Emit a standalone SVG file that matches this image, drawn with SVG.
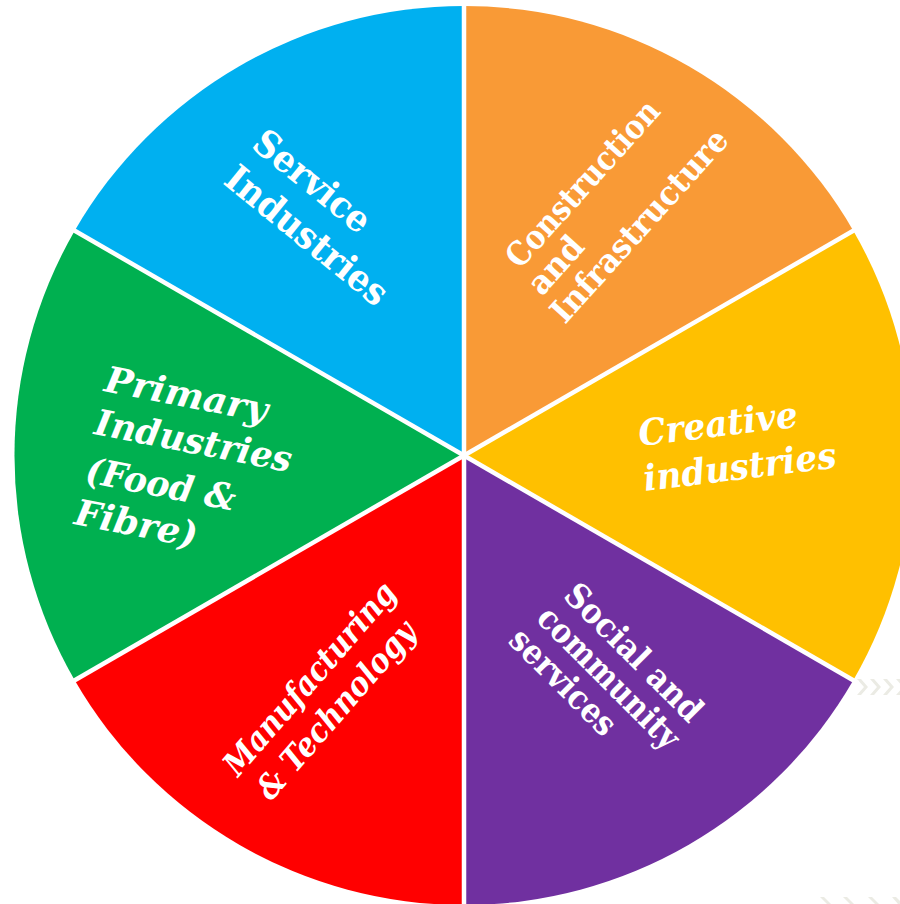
<svg xmlns="http://www.w3.org/2000/svg" width="900" height="904" viewBox="0 0 900 904">
<style>
.lbl{fill:#fff;font-family:"DejaVu Serif","Liberation Serif",serif;font-weight:bold}
.it{font-style:italic}
.gap{stroke:#fff;stroke-width:4.5}
.chev{fill:#ebebe4}
</style>
<rect width="900" height="904" fill="#fff"/>
<g id="chevrons">
<polygon class="chev" points="857,679 861,679 868,687 861,695 857,695 864,687"/>
<polygon class="chev" points="870,679 874,679 881,687 874,695 870,695 877,687"/>
<polygon class="chev" points="883,679 887,679 894,687 887,695 883,695 890,687"/>
<polygon class="chev" points="896,679 900,679 900,695 896,695 903,687"/>
<polygon class="chev" points="820,897 824,897 831,904 827,904"/>
<polygon class="chev" points="843,897 847,897 854,904 850,904"/>
<polygon class="chev" points="868,897 872,897 879,904 875,904"/>
<polygon class="chev" points="892,897 896,897 900,901 900,904 898,904"/>
</g>
<g id="node-service">
<path d="M464,455.5 L74.7,230.75 A449.5,449.5 0 0 1 464,6 Z" fill="#00B0F0"/>
<text class="lbl" font-size="37" transform="translate(250,147) rotate(39)" textLength="140" lengthAdjust="spacingAndGlyphs">Service</text>
<text class="lbl" font-size="37" transform="translate(222,183) rotate(39)" textLength="198" lengthAdjust="spacingAndGlyphs">Industries</text>
</g>
<g id="node-construction">
<path d="M464,455.5 L464,6 A449.5,449.5 0 0 1 853.3,230.75 Z" fill="#F99A36"/>
<text class="lbl" font-size="33" transform="translate(520,270) rotate(-48)" textLength="212" lengthAdjust="spacingAndGlyphs">Construction</text>
<text class="lbl" font-size="33" transform="translate(542,297) rotate(-48)" textLength="66" lengthAdjust="spacingAndGlyphs">and</text>
<text class="lbl" font-size="33" transform="translate(565,325) rotate(-48)" textLength="247" lengthAdjust="spacingAndGlyphs">Infrastructure</text>
</g>
<g id="node-creative">
<path d="M464,455.5 L853.3,230.75 A449.5,449.5 0 0 1 853.3,680.25 Z" fill="#FFC000"/>
<text class="lbl it" font-size="36" transform="translate(640,446) rotate(-7)" textLength="160" lengthAdjust="spacingAndGlyphs">Creative</text>
<text class="lbl it" font-size="36" transform="translate(645,491) rotate(-7)" textLength="194" lengthAdjust="spacingAndGlyphs">industries</text>
</g>
<g id="node-social">
<path d="M464,455.5 L853.3,680.25 A449.5,449.5 0 0 1 464,905 Z" fill="#7030A0"/>
<text class="lbl" font-size="34" transform="translate(562,597) rotate(45)" textLength="180" lengthAdjust="spacingAndGlyphs">Social and</text>
<text class="lbl" font-size="34" transform="translate(535,620) rotate(45)" textLength="186" lengthAdjust="spacingAndGlyphs">community</text>
<text class="lbl" font-size="34" transform="translate(507,642) rotate(45)" textLength="136" lengthAdjust="spacingAndGlyphs">services</text>
</g>
<g id="node-manufacturing">
<path d="M464,455.5 L464,905 A449.5,449.5 0 0 1 74.7,680.25 Z" fill="#FF0000"/>
<text class="lbl it" font-size="33" transform="translate(238,778) rotate(-49)" textLength="244" lengthAdjust="spacingAndGlyphs">Manufacturing</text>
<text class="lbl it" font-size="33" transform="translate(271,802) rotate(-49)" textLength="224" lengthAdjust="spacingAndGlyphs">&amp; Technology</text>
</g>
<g id="node-primary">
<path d="M464,455.5 L74.7,680.25 A449.5,449.5 0 0 1 74.7,230.75 Z" fill="#00B050"/>
<text class="lbl it" font-size="36" transform="translate(103,391) rotate(11)" textLength="165" lengthAdjust="spacingAndGlyphs">Primary</text>
<text class="lbl it" font-size="36" transform="translate(93,434) rotate(11)" textLength="200" lengthAdjust="spacingAndGlyphs">Industries</text>
<text class="lbl it" font-size="36" transform="translate(84,482) rotate(11)" textLength="152" lengthAdjust="spacingAndGlyphs">(Food &amp;</text>
<text class="lbl it" font-size="36" transform="translate(73,524) rotate(11)" textLength="124" lengthAdjust="spacingAndGlyphs">Fibre)</text>
</g>
<g id="connectors">
<line class="gap" x1="464" y1="0" x2="464" y2="904"/>
<line class="gap" x1="464" y1="455.5" x2="70" y2="228"/>
<line class="gap" x1="464" y1="455.5" x2="858" y2="228"/>
<line class="gap" x1="464" y1="455.5" x2="70" y2="683"/>
<line class="gap" x1="464" y1="455.5" x2="858" y2="683"/>
</g>
</svg>
